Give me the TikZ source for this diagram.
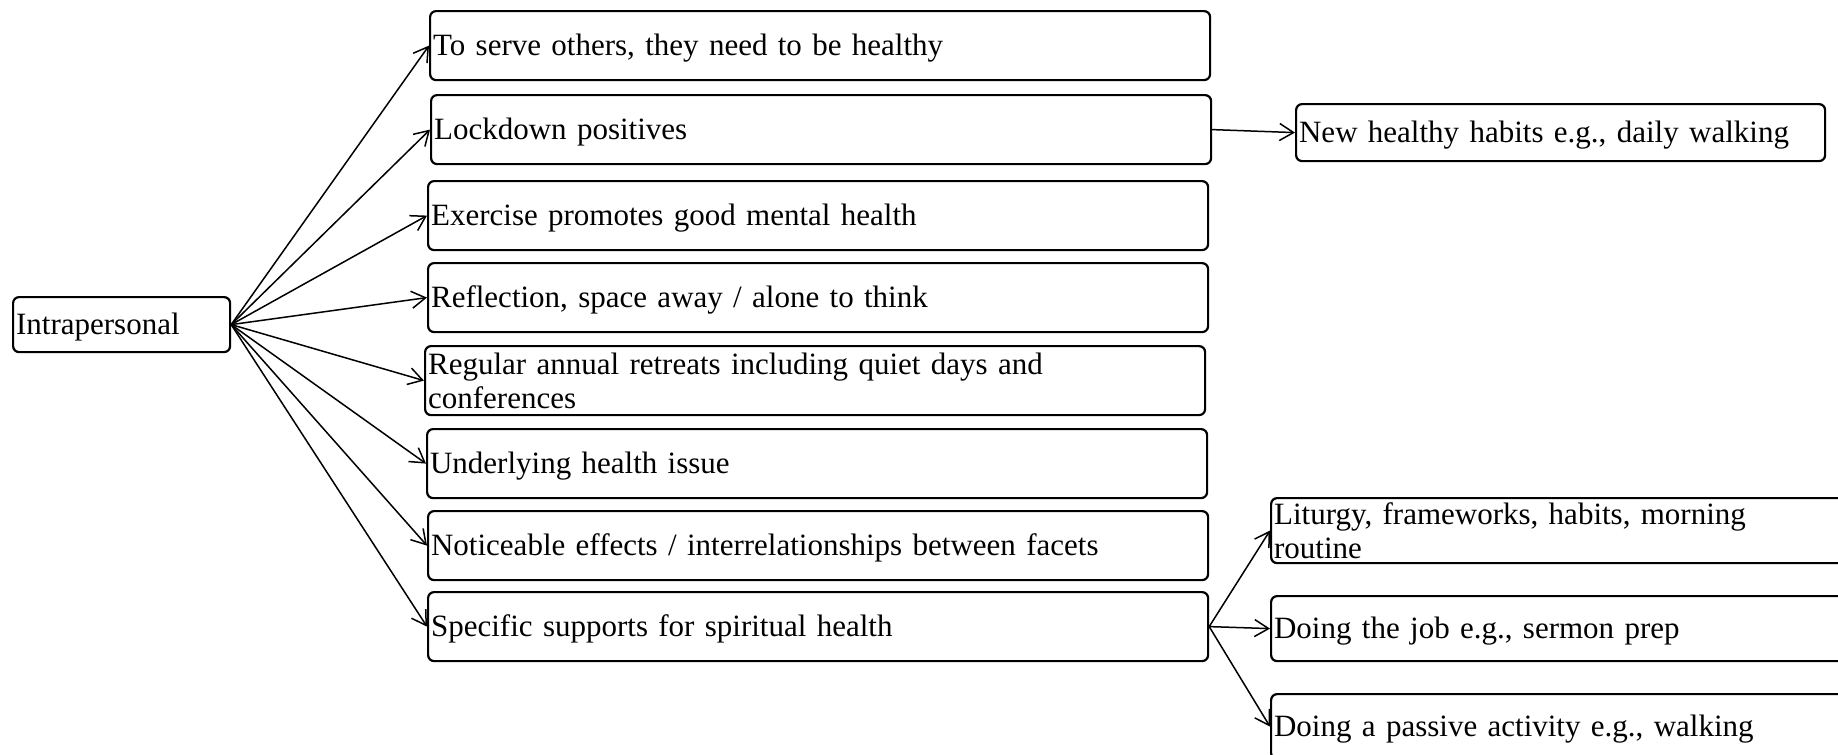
\documentclass[tikz,border=0pt]{standalone}
\usepackage{fontspec}
\setmainfont{Liberation Serif}
\usetikzlibrary{arrows.meta}

\tikzset{
  bx/.style={draw, line width=1.1pt, rounded corners=3pt, inner xsep=1.5pt,
    inner ysep=0pt, align=left, anchor=north west,
    font=\fontsize{15.5}{17}\selectfont},
  % single-line boxes: centre the text on its capitals
  oneline/.style={text height=12.4pt, text depth=2.2pt},
  mainbx/.style={bx, text width=387pt, minimum height=34.5pt},
  sidebx/.style={bx, text width=302pt, minimum height=32.5pt},
  arr/.style={line width=0.75pt, -{Straight Barb[length=7pt,width=8.5pt,line width=0.75pt]}}
}

\begin{document}
\begin{tikzpicture}[x=0.5pt, y=-0.5pt]
\useasboundingbox (0,0) rectangle (1838,755);
\clip (0,0) rectangle (1838,755);

% root
\node[bx, oneline, text width=105.5pt, minimum height=27.5pt] (intra) at (12,296) {Intrapersonal};

% main column
\node[mainbx, oneline] (b1) at (429,10)  {To serve others, they need to be healthy};
\node[mainbx, oneline] (b2) at (430,94)  {Lockdown positives};
\node[mainbx, oneline] (b3) at (427,180) {Exercise promotes good mental health};
\node[mainbx, oneline] (b4) at (427,262) {Reflection, space away / alone to think};
\node[mainbx] (b5) at (424,345) {Regular annual retreats including quiet days and\\conferences};
\node[mainbx, oneline] (b6) at (426,428) {Underlying health issue};
\node[mainbx, oneline] (b7) at (427,510) {Noticeable effects / interrelationships between facets};
\node[mainbx, oneline] (b8) at (427,591) {Specific supports for spiritual health};

% second level
\node[bx, oneline, text width=261.5pt, minimum height=28.5pt] (nh) at (1295,103) {New healthy habits e.g., daily walking};
\node[sidebx] (lit) at (1270,497) {Liturgy, frameworks, habits, morning\\routine};
\node[sidebx, oneline] (job) at (1270,595) {Doing the job e.g., sermon prep};
\node[sidebx, oneline] (pas) at (1270,693) {Doing a passive activity e.g., walking};

% connectors
\foreach \t in {b1,b2,b3,b4,b5,b6,b7,b8}
  \draw[arr] (intra.east) -- (\t.west);
\draw[arr] (b2.east) -- (nh.west);
\draw[arr] (b8.east) -- (lit.west);
\draw[arr] (b8.east) -- (job.west);
\draw[arr] (b8.east) -- (pas.west);
\end{tikzpicture}
\end{document}
